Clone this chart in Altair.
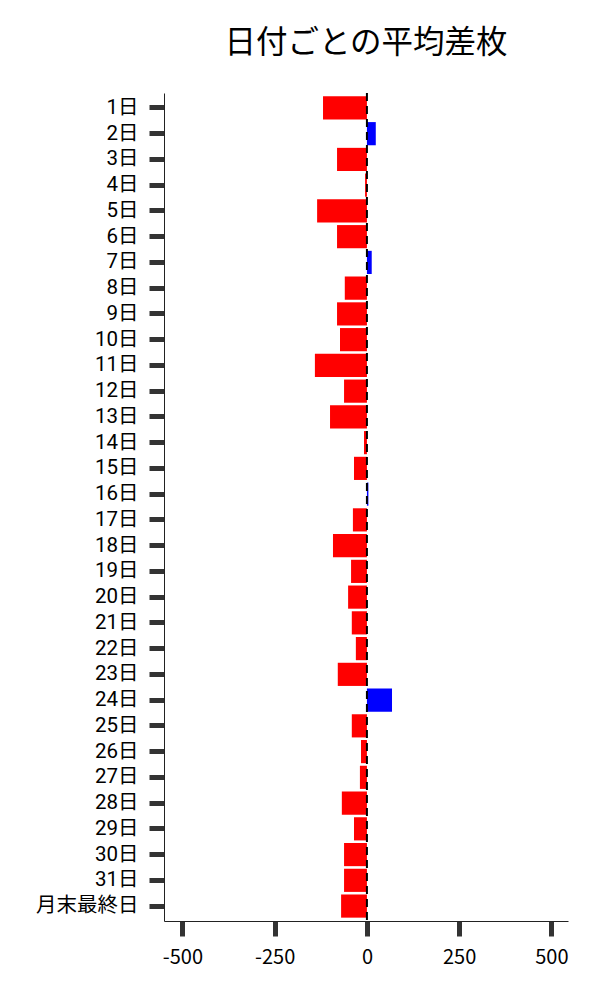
import altair as alt
import pandas as pd

days = [f"{i}日" for i in range(1, 32)] + ["月末最終日"]
values = [-119, 24, -81, -5, -135, -81, 13, -60, -81, -73,
          -141, -62, -100, -8, -35, 4, -38, -92, -43, -51,
          -41, -30, -79, 68, -41, -16, -19, -68, -35, -62,
          -62, -70]
x_ticks = [-500, -250, 0, 250, 500]

FONT = "Noto Sans CJK JP"
YFONT = "Roboto, Noto Sans CJK JP"

df = pd.DataFrame({"day": days, "value": values})
zero = pd.DataFrame({"x": [0]})

xscale = alt.Scale(domain=[-550, 545], nice=False, zero=False)

bars = alt.Chart(df).mark_bar().encode(
    y=alt.Y("day:N", sort=days,
            scale=alt.Scale(paddingInner=0.1, paddingOuter=0.13),
            axis=alt.Axis(title=None, labelFontSize=20.5, labelFont=YFONT,
                          labelColor="black", tickColor="#333333",
                          tickWidth=5, tickSize=15, labelPadding=11,
                          domainColor="#222222", domainWidth=1)),
    x=alt.X("value:Q", scale=xscale,
            axis=alt.Axis(title=None, values=x_ticks, grid=False,
                          labelExpr="datum.value + ''",
                          labelFontSize=20, labelFont=FONT,
                          labelColor="black", tickColor="#333333",
                          tickWidth=5, tickSize=15, labelPadding=11,
                          domainColor="#222222", domainWidth=1)),
    color=alt.condition(alt.datum.value > 0, alt.value("#0000ff"), alt.value("#ff0000")),
)

rule = alt.Chart(zero).mark_rule(color="black", strokeWidth=2, strokeDash=[8, 5]).encode(
    x=alt.X("x:Q", scale=xscale)
)

chart = alt.layer(bars, rule).properties(
    width=404,
    height=828,
    title=alt.TitleParams("日付ごとの平均差枚", font=FONT, fontSize=31.5,
                          fontWeight="normal", color="black", anchor="middle",
                          offset=33),
    autosize=alt.AutoSizeParams(type="none"),
    padding={"left": 156, "top": 85, "right": 24, "bottom": 60},
).configure_view(stroke=None)

chart.save("out.html", embed_options={"renderer": "svg", "actions": False})
